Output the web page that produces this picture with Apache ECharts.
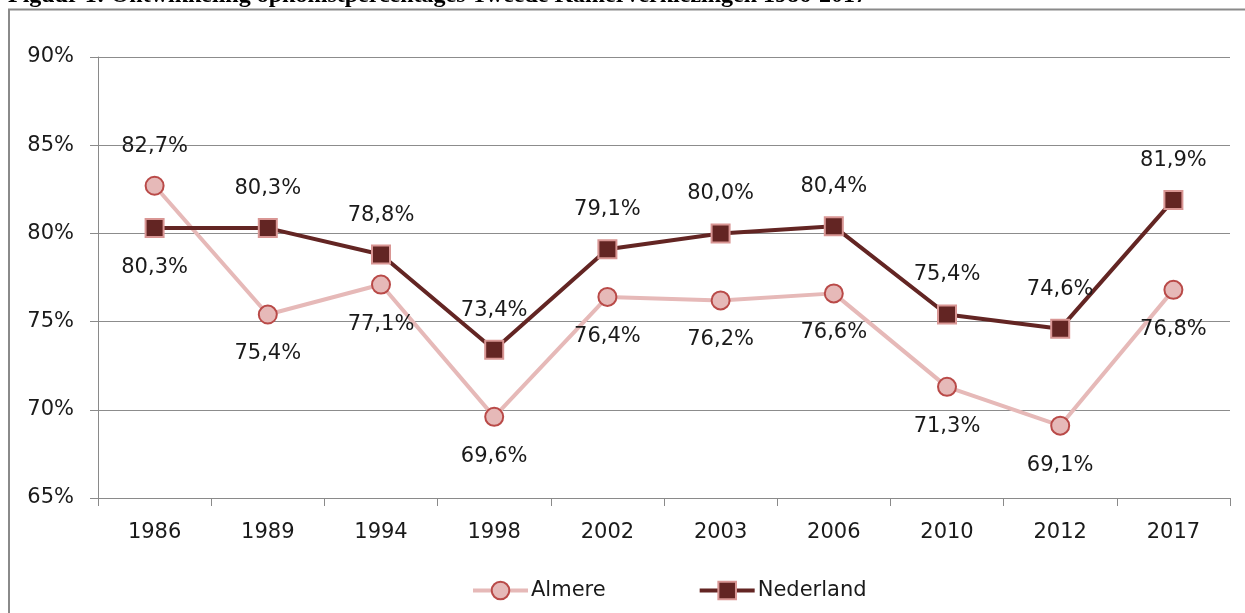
<!DOCTYPE html>
<html>
<head>
<meta charset="utf-8">
<script src="https://cdn.jsdelivr.net/npm/echarts@6/dist/echarts.min.js"></script>
<style>
html,body{margin:0;padding:0;background:#fff;}
#chart{width:1245px;height:613px;}
</style>
</head>
<body>
<div id="chart"></div>
<script>
const titleText = 'Figuur 1: Ontwikkeling opkomstpercentages Tweede Kamerverkiezingen 1986-2017';
const years = ['1986','1989','1994','1998','2002','2003','2006','2010','2012','2017'];
const almere = [82.7, 75.4, 77.1, 69.6, 76.4, 76.2, 76.6, 71.3, 69.1, 76.8];
const nederland = [80.3, 80.3, 78.8, 73.4, 79.1, 80.0, 80.4, 75.4, 74.6, 81.9];
const almerePos = ['top','bottom','bottom','bottom','bottom','bottom','bottom','bottom','bottom','bottom'];
const nederlandPos = ['bottom','top','top','top','top','top','top','top','top','top'];
const yMin = 65, yMax = 90, yStep = 5;

const fmt = v => v.toFixed(1).replace('.', ',') + '%';
const FONT = 'DejaVu Sans';
const FS = 21;

function buildData(vals, pos) {
  return vals.map((v, i) => ({
    value: v,
    label: { position: pos[i] }
  }));
}

const chart = echarts.init(document.getElementById('chart'), null, {renderer: 'canvas'});
chart.setOption({
  animation: false,
  backgroundColor: '#ffffff',
  graphic: [
    {
      type: 'rect',
      shape: { x: 9, y: 9.5, width: 1300, height: 700 },
      style: { fill: 'none', stroke: '#8a8a8a', lineWidth: 2 },
      silent: true
    },
    {
      type: 'text',
      left: 8,
      top: -16,
      style: {
        text: titleText,
        font: 'bold 24px "Liberation Serif"',
        fill: '#000'
      },
      silent: true
    }
  ],
  grid: { left: 98, right: 15, top: 57, bottom: 115, containLabel: false },
  legend: {
    left: 466,
    top: 575,
    itemWidth: 55,
    itemHeight: 22,
    itemGap: 92,
    textStyle: { fontFamily: FONT, fontSize: FS, color: '#1a1a1a', padding: [0,0,0,-2] },
    data: [
      { name: 'Almere', lineStyle: { width: 4, color: '#e6b9b8' } },
      { name: 'Nederland', lineStyle: { width: 4, color: '#632523' } }
    ]
  },
  xAxis: {
    type: 'category',
    data: years,
    boundaryGap: true,
    axisLine: { lineStyle: { color: '#8a8a8a', width: 1 } },
    axisTick: { show: true, interval: 0, length: 8, lineStyle: { color: '#8a8a8a' } },
    axisLabel: { fontFamily: FONT, fontSize: FS, color: '#1a1a1a', margin: 24, interval: 0 },
    splitLine: { show: false }
  },
  yAxis: {
    type: 'value',
    min: yMin,
    max: yMax,
    interval: yStep,
    axisLine: { show: true, lineStyle: { color: '#8a8a8a', width: 1 } },
    axisTick: { show: true, length: 8, lineStyle: { color: '#8a8a8a' } },
    axisLabel: { fontFamily: FONT, fontSize: FS, color: '#1a1a1a', margin: 24, formatter: v => v + '%' },
    splitLine: { show: true, lineStyle: { color: '#8c8c8c', width: 1 } }
  },
  series: [
    {
      name: 'Almere',
      type: 'line',
      data: buildData(almere, almerePos),
      symbol: 'circle',
      symbolSize: 18,
      z: 2,
      lineStyle: { color: '#e6b9b8', width: 4 },
      itemStyle: { color: '#e6b9b8', borderColor: '#b94a48', borderWidth: 2 },
      label: {
        show: true,
        distance: 19,
        fontFamily: FONT,
        fontSize: FS,
        color: '#1a1a1a',
        formatter: p => fmt(p.value)
      }
    },
    {
      name: 'Nederland',
      type: 'line',
      data: buildData(nederland, nederlandPos),
      symbol: 'rect',
      symbolSize: 18,
      z: 3,
      lineStyle: { color: '#632523', width: 4 },
      itemStyle: { color: '#632523', borderColor: '#d99694', borderWidth: 2 },
      label: {
        show: true,
        distance: 19,
        fontFamily: FONT,
        fontSize: FS,
        color: '#1a1a1a',
        formatter: p => fmt(p.value)
      }
    }
  ]
});
</script>
</body>
</html>
